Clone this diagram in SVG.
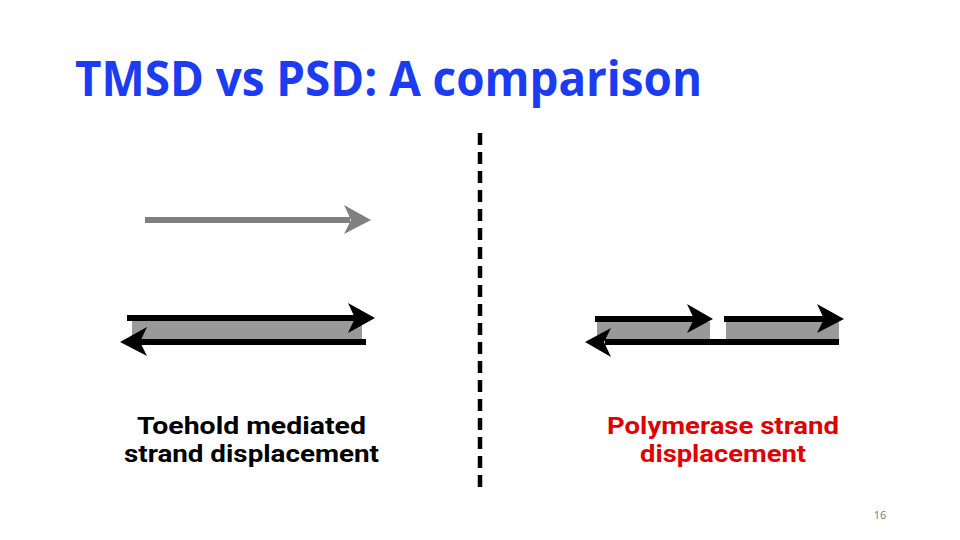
<svg xmlns="http://www.w3.org/2000/svg" width="960" height="540" viewBox="0 0 960 540">
<style>
.t{font-family:"Open Sans","Noto Sans","Liberation Sans",sans-serif;}
.title{font-size:48px;font-weight:bold;fill:#1b3cf0;}
.lab{font-family:Roboto,"Liberation Sans",sans-serif;font-size:23px;font-weight:bold;}
.blk{stroke:#000;stroke-width:6;fill:none;}
.duplex{fill:#999;}
</style>
<rect width="960" height="540" fill="#fff"/>
<text class="t title" x="75" y="96" textLength="627" lengthAdjust="spacingAndGlyphs">TMSD vs PSD: A comparison</text>
<g id="divider"><line x1="480" y1="133" x2="480" y2="488" stroke="#000" stroke-width="4.5" stroke-dasharray="12 7"/></g>
<g id="invader">
<line x1="145" y1="220" x2="350" y2="220" stroke="#808080" stroke-width="6"/>
<polygon points="371,220 344,205 351,220 344,234" fill="#808080"/>
</g>
<g id="tmsd-duplex">
<rect class="duplex" x="132" y="321" width="230" height="18"/>
<line class="blk" x1="127" y1="318" x2="355" y2="318"/>
<polygon points="375,318 348,303 355,318 348,333" fill="#000"/>
<line class="blk" x1="140" y1="342" x2="366" y2="342"/>
<polygon points="120,342 147,327 140,342 147,356" fill="#000"/>
</g>
<g id="psd-duplex">
<rect class="duplex" x="597" y="322" width="113" height="17"/>
<rect class="duplex" x="726" y="322" width="113" height="17"/>
<line class="blk" x1="595" y1="319" x2="695" y2="319"/>
<polygon points="713,319 687,304 694,319 687,333" fill="#000"/>
<line class="blk" x1="724" y1="319" x2="825" y2="319"/>
<polygon points="844,319 817,304 824,319 817,333" fill="#000"/>
<line class="blk" x1="605" y1="342" x2="839" y2="342"/>
<polygon points="585,342 611,328 604,342 611,357" fill="#000"/>
</g>
<g id="label-tmsd">
<text class="lab" x="137" y="434" fill="#000" textLength="229" lengthAdjust="spacingAndGlyphs">Toehold mediated</text>
<text class="lab" x="124" y="462" fill="#000" textLength="255" lengthAdjust="spacingAndGlyphs">strand displacement</text>
</g>
<g id="label-psd">
<text class="lab" x="607" y="434" fill="#e00000" textLength="232" lengthAdjust="spacingAndGlyphs">Polymerase strand</text>
<text class="lab" x="640" y="462" fill="#e00000" textLength="166" lengthAdjust="spacingAndGlyphs">displacement</text>
</g>
<text class="t" x="880" y="519" font-size="11" fill="#777" text-anchor="middle">16</text>
</svg>
